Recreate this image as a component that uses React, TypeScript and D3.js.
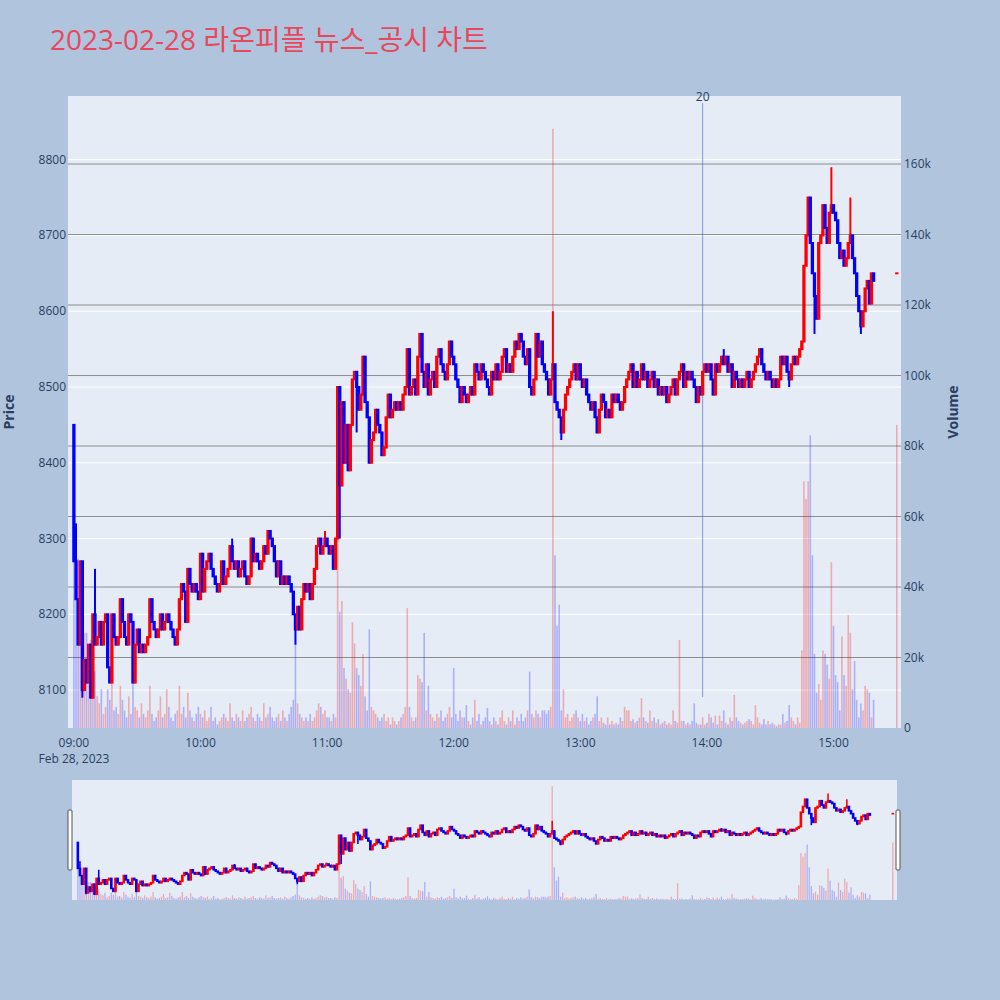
import React from "react";
import * as d3 from "d3";

const TITLE = "2023-02-28 라온피플 뉴스_공시 차트";
const SESSION_START = new Date(2023, 1, 28, 9, 0);
const FIRST_OPEN = 8450;

// 1-minute closes, 09:00 .. 15:19
const closePrices = [
  8270, 8220, 8160, 8270, 8100, 8140, 8110, 8160, 8090, 8200,
  8160, 8170, 8190, 8160, 8190, 8200, 8130, 8110, 8200, 8170,
  8160, 8170, 8220, 8190, 8170, 8160, 8200, 8190, 8110, 8160,
  8180, 8150, 8160, 8150, 8160, 8170, 8220, 8190, 8180, 8170,
  8180, 8200, 8180, 8190, 8200, 8190, 8180, 8170, 8160, 8180,
  8220, 8240, 8230, 8190, 8260, 8240, 8230, 8240, 8230, 8220,
  8280, 8230, 8260, 8270, 8280, 8260, 8250, 8240, 8230, 8240,
  8270, 8240, 8250, 8260, 8290, 8270, 8260, 8270, 8250, 8260,
  8270, 8250, 8240, 8250, 8300, 8270, 8280, 8270, 8260, 8270,
  8290, 8280, 8310, 8300, 8290, 8270, 8250, 8270, 8240,
  8250, 8240, 8250, 8240, 8230, 8200, 8180, 8210, 8180,
  8220, 8240, 8230, 8240, 8220, 8240, 8260, 8290, 8300, 8280, 8290, 8300, 8290,
  8280, 8290, 8260, 8300, 8500, 8370, 8480, 8400, 8450, 8390,
  8450, 8510, 8520, 8500, 8470, 8490, 8540, 8480, 8460, 8400,
  8430, 8440, 8470, 8450, 8440, 8410, 8420, 8460, 8490, 8460,
  8470, 8480, 8470, 8480, 8470, 8490, 8500, 8550, 8490, 8500,
  8510, 8490, 8540, 8570, 8520, 8500, 8530, 8490, 8510, 8520,
  8500, 8540, 8550, 8530, 8520, 8510, 8530, 8560, 8540, 8530,
  8510, 8500, 8480, 8500,
  8490, 8480, 8490, 8500, 8490, 8530, 8520, 8510, 8530, 8520,
  8510, 8500, 8490, 8520, 8510, 8530, 8510, 8520, 8540, 8550,
  8520, 8530, 8520, 8540, 8560, 8550, 8570, 8560, 8540, 8530,
  8550, 8500, 8490, 8510, 8570, 8540, 8560, 8530, 8520, 8510,
  8490, 8510, 8530, 8480, 8470, 8460, 8440, 8470, 8490, 8500,
  8510, 8520, 8530, 8510, 8530, 8510, 8500, 8510, 8490, 8480,
  8470, 8480, 8460, 8440, 8470, 8490,
  8480, 8460, 8470, 8460, 8490, 8480, 8490, 8480, 8470, 8480,
  8500, 8510, 8520, 8530, 8500, 8520, 8500, 8510, 8530,
  8510, 8520, 8500, 8510, 8520, 8500, 8510, 8490, 8500, 8490,
  8500, 8480, 8490, 8500, 8510, 8490, 8510, 8520, 8530, 8500,
  8520, 8510, 8520, 8510, 8500, 8480, 8500, 8490, 8520, 8530,
  8520, 8530, 8510, 8490, 8530, 8520, 8530, 8540, 8530, 8540,
  8520, 8530, 8500, 8520, 8510, 8500, 8510, 8500, 8510, 8520, 8500,
  8510, 8520, 8530, 8540, 8550, 8530, 8520, 8510, 8520,
  8510, 8500, 8510, 8500, 8510, 8540, 8530, 8540, 8520, 8510, 8530,
  8540, 8530, 8540, 8550, 8560, 8660, 8700, 8750, 8690, 8650,
  8620, 8590, 8690, 8700, 8740, 8710, 8690, 8730, 8740, 8730,
  8720, 8690, 8670, 8680, 8660, 8670, 8690, 8700, 8670,
  8650, 8620, 8600, 8580, 8600, 8630, 8640, 8610, 8650, 8640,
];

// 1-minute volumes in thousands of shares
const volumesK = [
  64, 42, 48, 30, 36, 27, 27, 22, 25, 14,
  16, 9, 7, 11, 4, 6, 11, 8, 14, 5,
  6, 4, 12, 8, 5, 3, 9, 4, 14, 6,
  5, 3, 7, 4, 3, 5, 12, 4, 2, 3,
  5, 9, 3, 4, 11, 6, 3, 2, 4, 5,
  12, 4, 6, 3, 10, 5, 3, 2, 4, 6,
  4, 3, 5, 2, 3, 6, 2, 3, 1, 2,
  3, 4, 3, 2, 7, 3, 2, 4, 3, 2,
  5, 2, 3, 4, 6, 3, 2, 4, 3, 2,
  7, 3, 4, 6, 3, 2, 3, 4, 2, 5,
  3, 2, 4, 6, 8, 24, 7, 4, 3, 2,
  3, 2, 4, 2, 3, 5, 7, 6, 4, 5,
  3,
  3, 2, 4, 3, 54, 33, 36, 17, 14, 11,
  10, 30, 24, 17, 15, 12, 21, 9, 5, 28,
  6, 5, 4, 3, 2, 3, 4, 2, 3, 1,
  3, 2, 1, 2, 3, 4, 6, 34, 6, 3,
  2, 3, 15, 14, 13, 27, 5, 12, 4, 3,
  2, 4, 3, 5, 2, 3, 4, 6, 3, 17,
  4, 2, 5, 3,
  3, 6.5, 2, 1, 3, 8, 2, 4, 1, 2,
  3, 5.7, 2, 1, 3, 2, 1, 3, 5, 2,
  1, 3, 2, 5, 1, 3, 2, 4, 2, 3,
  5, 16, 4, 3, 5, 4, 3, 5, 5, 4,
  5, 6, 170, 49, 29, 35, 5, 11, 3, 4,
  2, 3, 4, 5, 3, 2, 4, 2, 3, 1,
  2, 3, 4, 9, 2, 3,
  1.5, 1, 3, 1, 2, 1, 1.5, 1, 3, 2,
  6, 5, 5, 2, 2.5, 1.5, 2, 3, 8.5, 3,
  2, 1.5, 5, 2, 3, 1.5, 2.5, 1, 1.5, 2,
  1, 1.5, 1, 5, 2, 1.5, 25, 2, 2, 1,
  1.5, 1, 2, 7, 1.5, 1, 1, 3, 1, 1.5,
  4, 3, 1.5, 3.5, 1, 3.5, 2, 5, 1.5, 1,
  3, 2, 9.4, 3, 2, 1.5, 1, 1.5, 2, 2.5,
  2, 1, 6.5, 3, 1.5, 1, 2.5, 1, 2,
  1, 1.5, 1, 0.5, 1, 1, 4, 1.5, 2, 6.5, 3,
  2, 1, 3, 1.5, 22, 70, 65, 70, 83, 49,
  21, 10, 12.5, 8, 22, 21, 18, 14, 47, 29,
  15, 13, 5, 26, 15, 12, 32, 27, 11,
  19, 8, 3, 7, 5, 12, 11, 10, 3, 8,
];

// intraminute extremes [minute index, price]
const wickHighs: [number, number][] = [
  [1, 8320], [10, 8260], [75, 8300], [119, 8310], [164, 8570],
  [227, 8600], [308, 8550], [348, 8750], [359, 8790], [368, 8750],
];
const wickLows: [number, number][] = [
  [4, 8090], [8, 8090], [28, 8110], [105, 8160], [126, 8300],
  [134, 8440], [231, 8430], [339, 8500], [351, 8570], [373, 8570],
];

// closing auction (15:30)
const auctionMinute = 390;
const auctionOpen = 8650;
const auctionClose = 8650;
const auctionVolumeK = 86;

const priceTicks = [8100, 8200, 8300, 8400, 8500, 8600, 8700, 8800];
const volumeTicks = [0, 20000, 40000, 60000, 80000, 100000, 120000, 140000, 160000];
const volumeTickLabels = ["0", "20k", "40k", "60k", "80k", "100k", "120k", "140k", "160k"];
const newsMarks = [{ minute: 298, label: "20" }];

const FONT = "'Open Sans', 'Noto Sans CJK KR', sans-serif";
const TEXT = "#2a3f5f";
const UP = "#ff0000";
const DOWN = "#0000ff";

type Candle = { t: Date; o: number; h: number; l: number; c: number; v: number; up: boolean };

const minuteToDate = (m: number) => new Date(SESSION_START.getTime() + m * 60000);

function buildCandles(): Candle[] {
  const hi = new Map(wickHighs);
  const lo = new Map(wickLows);
  const out: Candle[] = [];
  let prevUp = false;
  closePrices.forEach((c, i) => {
    const o = i === 0 ? FIRST_OPEN : closePrices[i - 1];
    const up = c > o ? true : c < o ? false : prevUp;
    prevUp = up;
    out.push({
      t: minuteToDate(i),
      o,
      c,
      h: Math.max(o, c, hi.get(i) ?? -Infinity),
      l: Math.min(o, c, lo.get(i) ?? Infinity),
      v: volumesK[i] * 1000,
      up,
    });
  });
  out.push({
    t: minuteToDate(auctionMinute),
    o: auctionOpen,
    c: auctionClose,
    h: auctionClose,
    l: auctionOpen,
    v: auctionVolumeK * 1000,
    up: true,
  });
  return out;
}

function Series({ candles, x, yP, yV, bodyW, lineW, barW }: any) {
  return (
    <g>
      {candles.map((d: Candle, i: number) => {
        const cx = x(d.t);
        const col = d.up ? UP : DOWN;
        const top = yP(Math.max(d.o, d.c));
        const bot = yP(Math.min(d.o, d.c));
        return (
          <g key={"c" + i}>
            <line x1={cx} x2={cx} y1={yP(d.h)} y2={yP(d.l)} stroke={col} strokeWidth={lineW} />
            <rect
              x={cx - bodyW / 2}
              y={top}
              width={bodyW}
              height={Math.max(bot - top, 0.01)}
              fill={col}
              stroke={col}
              strokeWidth={lineW}
            />
          </g>
        );
      })}
      {candles.map((d: Candle, i: number) => {
        const cx = x(d.t);
        const y0 = yV(0);
        const y1 = yV(d.v);
        return (
          <rect
            key={"v" + i}
            x={cx - barW / 2}
            y={y1}
            width={barW}
            height={Math.max(y0 - y1, 0)}
            fill={d.up ? "rgba(255,0,0,0.28)" : "rgba(0,0,255,0.25)"}
          />
        );
      })}
    </g>
  );
}

export default function App() {
  const candles = buildCandles();
  const L = 68, R = 901, T = 96, B = 728;
  const domain = [minuteToDate(-2.8), minuteToDate(392)];
  const x = d3.scaleTime().domain(domain).range([L, R]);
  const yP = d3.scaleLinear().domain([8050, 8884]).range([B, T]);
  const yV = d3.scaleLinear().domain([0, 179300]).range([B, T]);

  const sL = 72, sR = 897, sT = 780, sB = 900;
  const xs = d3.scaleTime().domain(domain).range([sL, sR]);
  const yPs = d3.scaleLinear().domain([8050, 8884]).range([sB, sT]);
  const yVs = d3.scaleLinear().domain([0, 179300]).range([sB, sT]);

  const hourTicks = x.ticks(d3.timeHour.every(1) as any);
  const fmt = d3.timeFormat("%H:%M");

  return (
    <div style={{ position: "absolute", left: 0, top: 0 }}>
      <svg width={1000} height={1000} style={{ display: "block" }}>
        <rect x={0} y={0} width={1000} height={1000} fill="#b0c4de" />
        <text x={50} y={50} fontFamily={FONT} fontSize={28} fill="#e8485c">
          {TITLE}
        </text>

        <rect x={L} y={T} width={R - L} height={B - T} fill="#e5ecf6" />
        {priceTicks.map((p) => (
          <line key={"pg" + p} x1={L} x2={R} y1={yP(p)} y2={yP(p)} stroke="#ffffff" strokeWidth={1} />
        ))}
        {volumeTicks.slice(1).map((v) => (
          <line key={"vg" + v} x1={L} x2={R} y1={yV(v)} y2={yV(v)} stroke="#8e8e8e" strokeWidth={1} />
        ))}

        {newsMarks.map((n) => (
          <g key={"n" + n.minute}>
            <line
              x1={x(minuteToDate(n.minute))}
              x2={x(minuteToDate(n.minute))}
              y1={103}
              y2={697}
              stroke="rgba(70,90,210,0.6)"
              strokeWidth={1}
            />
            <text x={x(minuteToDate(n.minute))} y={101} textAnchor="middle" fontFamily={FONT} fontSize={12} fill={TEXT}>
              {n.label}
            </text>
          </g>
        ))}

        <Series candles={candles} x={x} yP={yP} yV={yV} bodyW={1.3} lineW={2} barW={1.6} />

        {priceTicks.map((p) => (
          <text key={"pt" + p} x={L - 2} y={yP(p) + 4} textAnchor="end" fontFamily={FONT} fontSize={12} fill={TEXT}>
            {p}
          </text>
        ))}
        {volumeTicks.map((v, i) => (
          <text key={"vt" + v} x={R + 3} y={yV(v) + 4} textAnchor="start" fontFamily={FONT} fontSize={12} fill={TEXT}>
            {volumeTickLabels[i]}
          </text>
        ))}
        {hourTicks.map((t, i) => (
          <text key={"xt" + i} x={x(t)} y={747} textAnchor="middle" fontFamily={FONT} fontSize={12} fill={TEXT}>
            {fmt(t)}
          </text>
        ))}
        <text x={x(hourTicks[0])} y={763} textAnchor="middle" fontFamily={FONT} fontSize={12} fill={TEXT}>
          Feb 28, 2023
        </text>
        <text
          transform={`translate(14,${(T + B) / 2}) rotate(-90)`}
          textAnchor="middle"
          fontFamily={FONT}
          fontSize={14}
          fontWeight={700}
          fill={TEXT}
        >
          Price
        </text>
        <text
          transform={`translate(958,${(T + B) / 2}) rotate(-90)`}
          textAnchor="middle"
          fontFamily={FONT}
          fontSize={14}
          fontWeight={700}
          fill={TEXT}
        >
          Volume
        </text>

        {/* range slider */}
        <rect x={sL} y={sT} width={sR - sL} height={sB - sT} fill="#e5ecf6" />
        <Series candles={candles} x={xs} yP={yPs} yV={yVs} bodyW={1} lineW={1.6} barW={1.3} />
        <rect x={68} y={810} width={4} height={60} fill="#ffffff" stroke="#555" strokeWidth={1} rx={1} />
        <rect x={896} y={810} width={4} height={60} fill="#ffffff" stroke="#555" strokeWidth={1} rx={1} />
      </svg>
    </div>
  );
}
